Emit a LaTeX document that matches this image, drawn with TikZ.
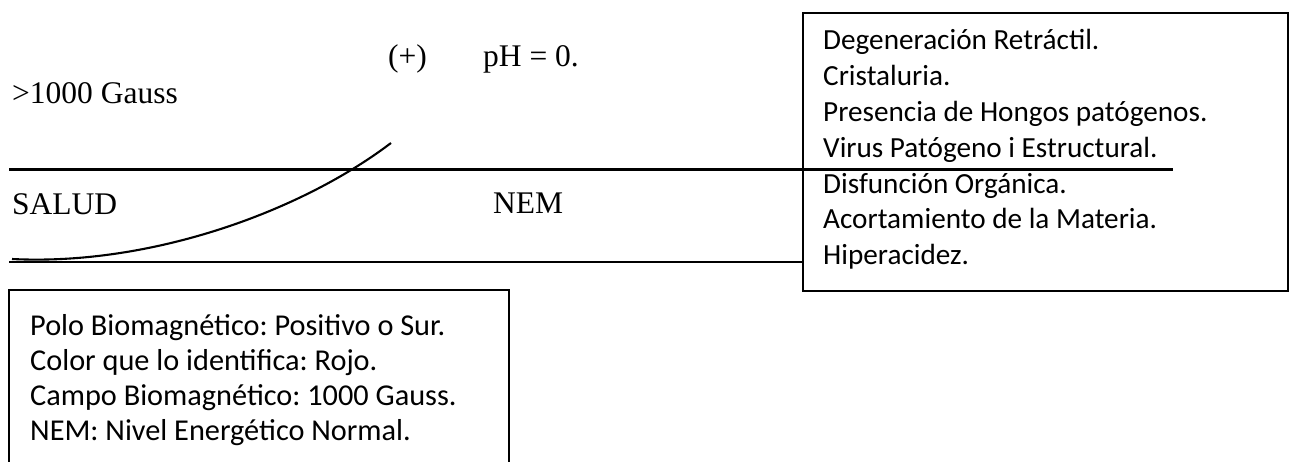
\documentclass[tikz,border=0pt]{standalone}
\usepackage{fontspec}
\setmainfont{Liberation Serif}
\newfontfamily\calib{Carlito}
\frenchspacing
\begin{document}
\begin{tikzpicture}[x=1pt,y=-1pt,
  ln/.style={line width=2.1pt},
  serif/.style={anchor=base west,inner sep=0pt,font=\fontsize{31.5}{36}\selectfont},
  sans/.style={anchor=base west,inner sep=0pt,font=\calib\fontsize{29.2}{35.8}\selectfont},
  sansb/.style={anchor=base west,inner sep=0pt,font=\calib\fontsize{30.3}{35}\selectfont},
  boxshape/.style={draw,line width=2.1pt,inner sep=0pt,anchor=north west}]
\useasboundingbox (0,0) rectangle (1289,462);
% right box
\node[boxshape,minimum width=485pt,minimum height=278pt] (rbox) at (802,12) {};
\foreach \t [count=\i from 0] in {Degeneración Retráctil.,Cristaluria.,Presencia de Hongos patógenos.,Virus Patógeno i Estructural.,Disfunción Orgánica.,Acortamiento de la Materia.,Hiperacidez.}
  \node[sans] (r\i) at (823,{50+35.8*\i}) {\t};
% left box (open at the bottom)
\coordinate (lb1) at (9,463);
\coordinate (lb2) at (9,290);
\coordinate (lb3) at (509,290);
\coordinate (lb4) at (509,463);
\draw[ln] (lb1) -- (lb2) -- (lb3) -- (lb4);
\node[sansb] (l1) at (30,335) {Polo Biomagnético: Positivo o Sur.};
\node[sansb] (l2) at (30,370) {Color que lo identifica: Rojo.};
\node[sansb] (l3) at (30,405) {Campo Biomagnético: 1000 Gauss.};
\node[sansb] (l4) at (30,440) {NEM: Nivel Energético Normal.};
% serif labels
\node[serif] (gauss) at (12,104) {>1000 Gauss};
\node[serif] (plus) at (388,67) {(+)};
\node[serif] (ph) at (483,67) {pH = 0.};
\node[serif] (salud) at (12,215) {SALUD};
\node[serif] (nem) at (493,214) {NEM};
% horizontal lines
\coordinate (u1) at (9,169.5);
\coordinate (u2) at (1173,169.5);
\draw[ln] (u1) -- (u2);
\coordinate (d1) at (9,261.7);
\draw[ln] (d1) -- (d1 -| rbox.west);
% curve
\coordinate (c1) at (12,259);
\coordinate (c2) at (391,143);
\draw[ln] (c1) .. controls (150,266) and (300,212) .. (c2);
\end{tikzpicture}
\end{document}
